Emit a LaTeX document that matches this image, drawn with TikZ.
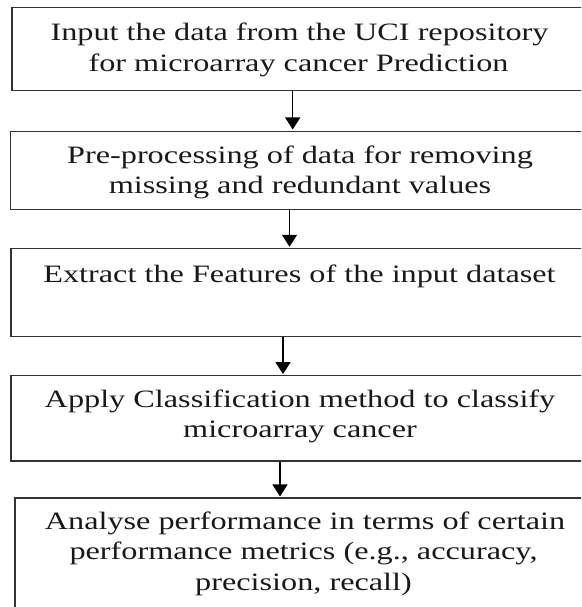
\documentclass[tikz,border=0pt]{standalone}
\usepackage{fontspec}
\setmainfont{Liberation Serif}[FakeStretch=1.29]
\usetikzlibrary{arrows.meta}
\tikzset{
  boxst/.style={draw=black!80, line width=1.1pt, rectangle, inner sep=0pt, fill=none},
  txt/.style={anchor=base, inner sep=0pt, font=\fontsize{25pt}{30pt}\selectfont, text=black!90},
  arr/.style={draw=black, line width=1.3pt, -{Triangle[width=15pt,length=12pt]}, shorten >=1pt}
}
\begin{document}
\begin{tikzpicture}[x=1pt,y=-1pt]
\useasboundingbox (0,0) rectangle (581,607);
\clip (0,0) rectangle (581,607);
% boxes
\node[boxst, minimum width=580pt, minimum height=83.4pt] (b1) at (302,49) {};
\node[boxst, minimum width=581.3pt, minimum height=78.3pt] (b2) at (301.3,170.2) {};
\node[boxst, minimum width=581pt, minimum height=88.4pt] (b3) at (301.5,292.5) {};
\node[boxst, minimum width=581pt, minimum height=85.3pt] (b4) at (301.5,418.3) {};
\node[boxst, minimum width=577pt, minimum height=152pt] (b5) at (303.5,574) {};
% texts
\node[txt] (t1a) at (299.5,41) {Input the data from the UCI repository};
\node[txt] (t1b) at (298.5,71.7) {for microarray cancer Prediction};
\node[txt] (t2a) at (300,163) {Pre-processing of data for removing};
\node[txt] (t2b) at (300,193) {missing and redundant values};
\node[txt] (t3a) at (299.5,282) {Extract the Features of the input dataset};
\node[txt] (t4a) at (300,407) {Apply Classification method to classify};
\node[txt] (t4b) at (300,437) {microarray cancer};
\node[txt] (t5a) at (305,529) {Analyse performance in terms of certain};
\node[txt] (t5b) at (303.5,559) {performance metrics (e.g., accuracy,};
\node[txt] (t5c) at (303.5,590) {precision, recall)};
% arrow columns
\coordinate (x1) at (292.7,0);
\coordinate (x2) at (289.5,0);
\coordinate (x3) at (283,0);
\coordinate (x4) at (280,0);
\draw[arr] (b1.south -| x1) -- (b2.north -| x1);
\draw[arr] (b2.south -| x2) -- (b3.north -| x2);
\draw[arr] (b3.south -| x3) -- (b4.north -| x3);
\draw[arr] (b4.south -| x4) -- (b5.north -| x4);
\end{tikzpicture}
\end{document}
